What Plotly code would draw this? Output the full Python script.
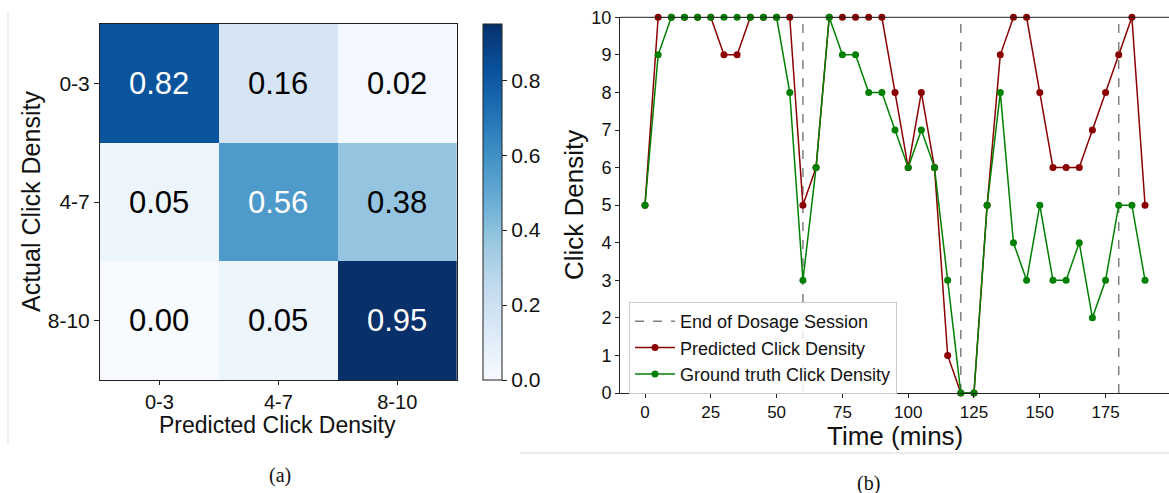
import plotly.graph_objects as go
import plotly.express as px

W, H = 1169, 493

# ---- data: confusion matrix (a) ----
cm_labels = ["0-3", "4-7", "8-10"]
cm_values = [[0.82, 0.16, 0.02],
             [0.05, 0.56, 0.38],
             [0.00, 0.05, 0.95]]
cbar_ticks = [0.0, 0.2, 0.4, 0.6, 0.8]

# ---- data: click density over time (b) ----
time_mins = list(range(0, 195, 5))
predicted = [5, 10, 10, 10, 10, 10, 9, 9, 10, 10, 10, 10, 5, 6, 10, 10, 10, 10, 10, 8,
             6, 8, 6, 1, 0, 0, 5, 9, 10, 10, 8, 6, 6, 6, 7, 8, 9, 10, 5]
ground_truth = [5, 9, 10, 10, 10, 10, 10, 10, 10, 10, 10, 8, 3, 6, 10, 9, 9, 8, 8, 7,
                6, 7, 6, 3, 0, 0, 5, 8, 4, 3, 5, 3, 3, 4, 2, 3, 5, 5, 3]
session_ends = [60, 120, 180]
time_ticks = [0, 25, 50, 75, 100, 125, 150, 175]
density_ticks = list(range(0, 11))

FONT = "Liberation Sans, Arial, sans-serif"
SERIF = "Liberation Serif, DejaVu Serif, serif"
AX = "#222222"

def px_x(p):
    return p / W

def px_y(p):
    return 1 - p / H

fig = go.Figure()

zmax = max(max(r) for r in cm_values)
fig.add_trace(go.Heatmap(
    z=cm_values, x=cm_labels, y=cm_labels,
    colorscale=px.colors.sequential.Blues, zmin=0, zmax=zmax,
    xaxis="x", yaxis="y", hoverinfo="skip",
    colorbar=dict(
        thickness=19, thicknessmode="pixels",
        len=356, lenmode="pixels",
        x=px_x(483), xanchor="left", xpad=0,
        y=px_y(202), yanchor="middle", ypad=0,
        outlinewidth=1, outlinecolor=AX,
        ticks="outside", ticklen=5, tickcolor=AX,
        tickvals=cbar_ticks, ticktext=[f"{v:.1f}" for v in cbar_ticks],
        tickfont=dict(family=FONT, size=21, color="#111"),
    ),
))

# vertical session lines (b)
vx, vy = [], []
for s in session_ends:
    vx += [s, s, None]
    vy += [0, 10, None]
fig.add_trace(go.Scatter(
    x=vx, y=vy, mode="lines", xaxis="x2", yaxis="y2",
    line=dict(color="#7f7f7f", width=1.5, dash="dash"),
    name="End of Dosage Session", hoverinfo="skip",
))
fig.add_trace(go.Scatter(
    x=time_mins, y=predicted, mode="lines+markers", xaxis="x2", yaxis="y2",
    line=dict(color="#8b0000", width=1.5),
    marker=dict(color="#8b0000", size=7),
    name="Predicted Click Density", cliponaxis=False,
))
fig.add_trace(go.Scatter(
    x=time_mins, y=ground_truth, mode="lines+markers", xaxis="x2", yaxis="y2",
    line=dict(color="#008000", width=1.5),
    marker=dict(color="#008000", size=7),
    name="Ground truth Click Density", cliponaxis=False,
))

annotations = []
thresh = zmax / 2
for i, row_lab in enumerate(cm_labels):
    for j, col_lab in enumerate(cm_labels):
        v = cm_values[i][j]
        annotations.append(dict(
            x=col_lab, y=row_lab, xref="x", yref="y", text=f"{v:.2f}",
            showarrow=False,
            font=dict(family=FONT, size=31, color="white" if v > thresh else "black"),
        ))

def label(text, x, y, size, angle=0, family=FONT):
    annotations.append(dict(
        x=px_x(x), y=px_y(y), xref="paper", yref="paper", text=text,
        showarrow=False, textangle=angle, xanchor="center", yanchor="middle",
        font=dict(family=family, size=size, color="#111"),
    ))

label("Actual Click Density", 31, 202, 25, -90)
label("Predicted Click Density", 277, 425, 23)
label("Click Density", 574, 205, 26, -90)
label("Time (mins)", 895, 436, 26)
label("(a)", 280, 475, 20, family=SERIF)
label("(b)", 868, 483, 20, family=SERIF)

shapes = [
    dict(type="line", xref="paper", yref="paper",
         x0=px_x(8), x1=px_x(8), y0=px_y(13), y1=px_y(443),
         line=dict(color="#d9d9d9", width=1)),
    dict(type="line", xref="paper", yref="paper",
         x0=px_x(520), x1=1, y0=px_y(453), y1=px_y(453),
         line=dict(color="#d9d9d9", width=1)),
    dict(type="line", xref="paper", yref="y2 domain",
         x0=px_x(620), x1=1, y0=1, y1=1,
         line=dict(color=AX, width=1)),
]

fig.update_layout(
    width=W, height=H, margin=dict(l=0, r=0, t=0, b=0, pad=0, autoexpand=False),
    paper_bgcolor="white", plot_bgcolor="white",
    font=dict(family=FONT, color="#111"),
    showlegend=True,
    legend=dict(
        x=px_x(629), y=px_y(302), xanchor="left", yanchor="top",
        bgcolor="rgba(255,255,255,0.85)", bordercolor="#cccccc", borderwidth=1,
        font=dict(family=FONT, size=18, color="#111"),
        tracegroupgap=0, itemwidth=40,
    ),
    xaxis=dict(
        domain=[px_x(100), px_x(456.7)], anchor="y", automargin=False,
        type="category", showline=True, mirror=True, linecolor=AX, linewidth=1,
        ticks="outside", ticklen=4, tickcolor=AX, showgrid=False, zeroline=False,
        tickfont=dict(family=FONT, size=20, color="#111"),
    ),
    yaxis=dict(
        domain=[px_y(380), px_y(24)], anchor="x", automargin=False,
        type="category", autorange="reversed",
        showline=True, mirror=True, linecolor=AX, linewidth=1,
        ticks="outside", ticklen=5, tickcolor=AX, showgrid=False, zeroline=False,
        tickfont=dict(family=FONT, size=21, color="#111"),
    ),
    xaxis2=dict(
        domain=[px_x(620), 1], anchor="y2", range=[-9.5, 199.1], automargin=False,
        tickvals=time_ticks, showline=True, linecolor=AX, linewidth=1,
        ticks="outside", ticklen=4, tickcolor=AX, showgrid=False, zeroline=False,
        tickfont=dict(family=FONT, size=17, color="#111"),
    ),
    yaxis2=dict(
        domain=[px_y(393), px_y(17.3)], anchor="x2", range=[0, 10], automargin=False,
        tickvals=density_ticks, showline=True, linecolor=AX, linewidth=1,
        ticks="outside", ticklen=4, tickcolor=AX, showgrid=False, zeroline=False,
        tickfont=dict(family=FONT, size=18, color="#111"),
    ),
    annotations=annotations,
    shapes=shapes,
)

fig.write_html("out.html")
